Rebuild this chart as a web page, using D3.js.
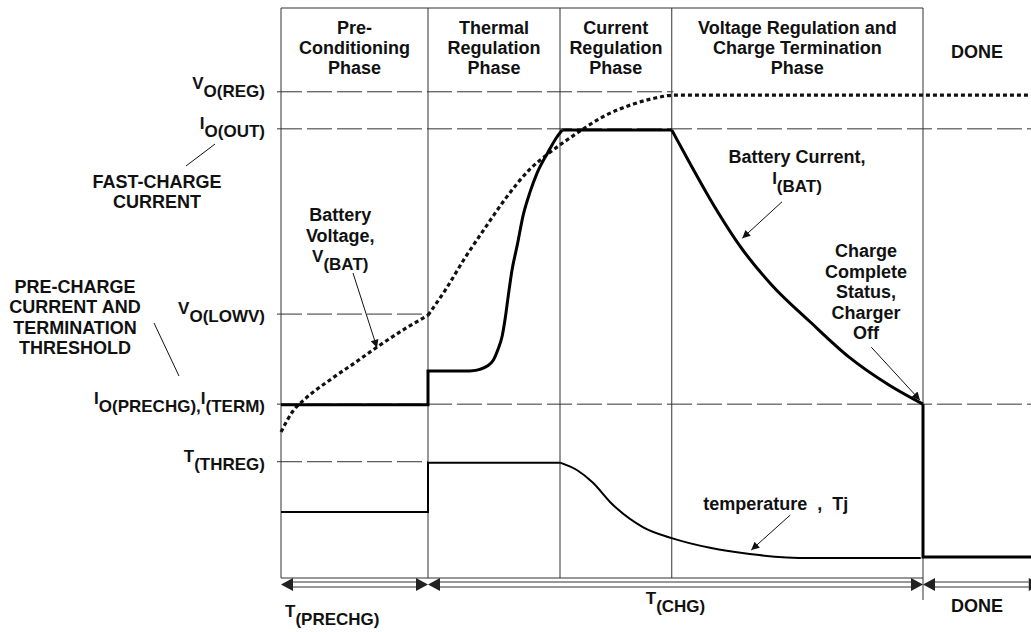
<!DOCTYPE html>
<html>
<head>
<meta charset="utf-8">
<script src="https://cdn.jsdelivr.net/npm/d3@7/dist/d3.min.js"></script>
<style>
  html, body { margin: 0; padding: 0; background: #fff; }
  svg { display: block; font-family: "Liberation Sans", Arial, sans-serif; font-weight: bold; }
  .frame { stroke: #333; stroke-width: 1; fill: none; }
  .ref { stroke: #333; stroke-width: 1; stroke-dasharray: 25,5; fill: none; }
  .current { stroke: #000; stroke-width: 3; fill: none; }
  .voltage { stroke: #111; stroke-width: 3.2; stroke-dasharray: 4,3; fill: none; }
  .temp { stroke: #000; stroke-width: 2; fill: none; }
  .pointer { stroke: #111; stroke-width: 1; fill: none; }
  text { fill: #111; }
</style>
</head>
<body>
<svg id="chart" width="1031" height="632"></svg>
<script>
"use strict";

// time runs 0..100 across the window, levels 0..100 from bottom to top of the frame
var phaseBounds = [0, 19.6, 37.2, 52.1, 85.6, 100];
var phaseLabels = [
    ["Pre-", "Conditioning", "Phase"],
    ["Thermal", "Regulation", "Phase"],
    ["Current", "Regulation", "Phase"],
    ["Voltage Regulation and", "Charge Termination", "Phase"],
    ["DONE"]
];

var refLabels = [["V", "O(REG)"], ["I", "O(OUT)"], ["V", "O(LOWV)"], ["I", "O(PRECHG),", "I", "(TERM)"], ["T", "(THREG)"]];
var refLevels = [85.3, 78.8, 46.3, 30.5, 20.4];
var refEnds = [52.3, 100, 19.6, 100, 19.6];

var currentPre = [[0, 30.4], [19.6, 30.4], [19.6, 36.3], [25.2, 36.3]];
var currentRise = [[25.2, 36.3], [26.5, 36.6], [27.5, 37.2], [28.3, 38.2], [28.9, 40.0], [29.5, 42.5],
    [29.9, 45.6], [30.3, 49.5], [30.8, 54.0], [31.5, 58.4], [32.3, 63.7], [33.2, 67.7], [34.1, 70.9],
    [35.6, 74.7], [36.7, 77.2], [37.5, 78.6]];
var currentFlat = [[37.5, 78.6], [52.1, 78.6]];
var currentDecay = [[52.1, 78.6], [54.5, 72.8], [57.2, 66.5], [61.6, 57.5], [65.3, 51.6],
    [70.5, 45.0], [75.7, 38.8], [80.9, 34.0], [85.6, 30.5]];
var currentDone = [[85.6, 30.5], [85.6, 3.7], [100, 3.7]];

var voltagePre = [[0, 25.6], [1.6, 29.3], [3.2, 31.4], [6.9, 35.1], [10, 37.9], [12.8, 40.5], [16.5, 43.7], [19.6, 46.1]];
var voltageFast = [[19.6, 46.1], [21.9, 50.5], [24.5, 56.1], [27.2, 61.4], [29.9, 66.5], [33.1, 71.6],
    [35.6, 74.4], [39.3, 77.9], [42.9, 80.9], [47.1, 83.2], [49.9, 84.2], [52.3, 84.7], [100, 84.7]];

var tempPre = [[0, 11.6], [19.6, 11.6], [19.6, 20.2], [37.3, 20.2]];
var tempFall = [[37.3, 20.2], [39.5, 18.9], [41.6, 16.7], [43.9, 13.3], [48.3, 8.9], [52.1, 7.0],
    [57.2, 5.3], [62.5, 4.2], [70.5, 3.5], [79.5, 3.5], [85.3, 3.5]];

var spanBounds = [[0, 19.6], [19.6, 85.6], [85.6, 101.3]];
var spanLabels = [["T", "(PRECHG)"], ["T", "(CHG)"], ["DONE"]];

var noteLines = [
    ["Battery", "Voltage,", ["V", "(BAT)"]],
    ["Battery Current,", ["I", "(BAT)"]],
    ["Charge", "Complete", "Status,", "Charger", "Off"],
    ["temperature  ,  Tj"]
];
var noteAt = [[7.9, 62.6], [68.8, 72.8], [78, 56.3], [56.3, 11.9]];
var pointerFrom = [[9.6, 53.5], [66.8, 66.0], [78.7, 40.5], [67.9, 11.05]];
var pointerTo = [[12.8, 40.4], [61.5, 59.6], [85.2, 31.2], [62.7, 4.9]];

var svg = d3.select("#chart");
var x = d3.scaleLinear().domain([0, 100]).range([281, 1031]);
var y = d3.scaleLinear().domain([0, 100]).range([578, 8]);
var lineHeight = 20.5;
var subDrop = 8;

// text with alternating normal / subscript parts
var richText = function (sel, parts) {
    parts.forEach(function (p, i) {
        sel.append("tspan")
            .attr("dy", i === 0 ? 0 : (i % 2 === 1 ? subDrop : -subDrop))
            .attr("font-size", 17)
            .text(p);
    });
};

svg.append("defs").append("marker")
    .attr("id", "tip")
    .attr("viewBox", "0 0 10 10")
    .attr("refX", 10).attr("refY", 5)
    .attr("markerWidth", 11).attr("markerHeight", 8)
    .attr("markerUnits", "userSpaceOnUse")
    .attr("orient", "auto")
    .append("path")
    .attr("d", "M0,0L10,5L0,10Z")
    .attr("fill", "#111");

// frame
svg.append("line").attr("class", "frame")
    .attr("x1", x(0)).attr("x2", x(phaseBounds[4]))
    .attr("y1", y(100)).attr("y2", y(100));
svg.append("line").attr("class", "frame")
    .attr("x1", x(0)).attr("x2", x(phaseBounds[4]))
    .attr("y1", y(0)).attr("y2", y(0));
svg.selectAll(".divider").data(phaseBounds.slice(0, 5)).enter().append("line")
    .attr("class", "frame divider")
    .attr("x1", function (d) { return x(d); })
    .attr("x2", function (d) { return x(d); })
    .attr("y1", y(100))
    .attr("y2", function (d, i) { return i === 4 ? y(0) + 22 : y(0); });

// phase headers
phaseLabels.forEach(function (lines, i) {
    var cx = (x(phaseBounds[i]) + x(phaseBounds[i + 1])) / 2;
    var top = lines.length === 1 ? 58 : 34;
    var t = svg.append("text").attr("text-anchor", "middle").attr("font-size", 18);
    lines.forEach(function (l, j) {
        t.append("tspan").attr("x", cx).attr("y", top + j * 20).text(l);
    });
});

// reference levels
refLevels.forEach(function (lv, i) {
    svg.append("line").attr("class", "ref")
        .attr("x1", x(0) - 4).attr("x2", x(refEnds[i]))
        .attr("y1", y(lv)).attr("y2", y(lv));
    var t = svg.append("text")
        .attr("x", x(0) - 16)
        .attr("y", y(lv) + (i === 0 ? -3 : 0))
        .attr("text-anchor", "end");
    richText(t, refLabels[i]);
});

// series
var line = function (curve) {
    return d3.line()
        .x(function (d) { return x(d[0]); })
        .y(function (d) { return y(d[1]); })
        .curve(curve);
};
var series = [
    [tempPre, d3.curveLinear, "temp"],
    [tempFall, d3.curveMonotoneX, "temp"],
    [voltagePre, d3.curveMonotoneX, "voltage"],
    [voltageFast, d3.curveMonotoneX, "voltage"],
    [currentPre, d3.curveLinear, "current"],
    [currentRise, d3.curveMonotoneX, "current"],
    [currentFlat, d3.curveLinear, "current"],
    [currentDecay, d3.curveMonotoneX, "current"],
    [currentDone, d3.curveLinear, "current"]
];
svg.selectAll(".series").data(series).enter().append("path")
    .attr("class", function (d) { return "series " + d[2]; })
    .attr("d", function (d) { return line(d[1])(d[0]); });

// time spans along the bottom
var spanY = y(0) + 6.5;
var head = 12, half = 6.5;
spanBounds.forEach(function (s, i) {
    var a = x(s[0]), b = x(s[1]);
    var g = svg.append("g");
    g.append("line").attr("class", "frame").attr("x1", a + head).attr("x2", b - head)
        .attr("y1", spanY - 2.5).attr("y2", spanY - 2.5);
    g.append("line").attr("class", "frame").attr("x1", a + head).attr("x2", b - head)
        .attr("y1", spanY + 2.5).attr("y2", spanY + 2.5);
    g.append("path").attr("fill", "#222")
        .attr("d", "M" + a + "," + spanY + "L" + (a + head) + "," + (spanY - half) + "L" + (a + head) + "," + (spanY + half) + "Z");
    g.append("path").attr("fill", "#222")
        .attr("d", "M" + b + "," + spanY + "L" + (b - head) + "," + (spanY - half) + "L" + (b - head) + "," + (spanY + half) + "Z");
});
var spanLabelY = [617, 604, 612];
spanLabels.forEach(function (parts, i) {
    var first = i === 0;
    var t = svg.append("text")
        .attr("x", first ? x(0) + 4 : (x(spanBounds[i][0]) + x(Math.min(spanBounds[i][1], 100))) / 2)
        .attr("y", spanLabelY[i])
        .attr("text-anchor", first ? "start" : "middle");
    if (parts.length === 1) {
        t.attr("font-size", 18).text(parts[0]);
    } else {
        richText(t, parts);
    }
});

// annotations inside the plot
noteLines.forEach(function (lines, i) {
    var px = x(noteAt[i][0]), py = y(noteAt[i][1]);
    var isTemp = i === 3;
    lines.forEach(function (l, j) {
        var t = svg.append("text")
            .attr("x", px).attr("y", py + j * lineHeight)
            .attr("text-anchor", isTemp ? "start" : "middle")
            .attr("font-size", 18)
            .style("white-space", "pre");
        if (Array.isArray(l)) {
            richText(t, l);
        } else {
            t.text(l);
        }
    });
});
pointerFrom.forEach(function (p, i) {
    svg.append("line").attr("class", "pointer")
        .attr("x1", x(p[0])).attr("y1", y(p[1]))
        .attr("x2", x(pointerTo[i][0])).attr("y2", y(pointerTo[i][1]))
        .attr("marker-end", "url(#tip)");
});

// notes in the left margin
var marginNotes = [
    { lines: ["FAST-CHARGE", "CURRENT"], cx: 157, top: 188, lead: [215, 144, 186, 166] },
    { lines: ["PRE-CHARGE", "CURRENT AND", "TERMINATION", "THRESHOLD"], cx: 75, top: 293, lead: [154, 323, 179, 376] }
];
marginNotes.forEach(function (n) {
    var t = svg.append("text").attr("text-anchor", "middle").attr("font-size", 18);
    n.lines.forEach(function (l, j) {
        t.append("tspan").attr("x", n.cx).attr("y", n.top + j * 20.3).text(l);
    });
    svg.append("line").attr("class", "pointer")
        .attr("x1", n.lead[0]).attr("y1", n.lead[1])
        .attr("x2", n.lead[2]).attr("y2", n.lead[3]);
});
</script>
</body>
</html>
